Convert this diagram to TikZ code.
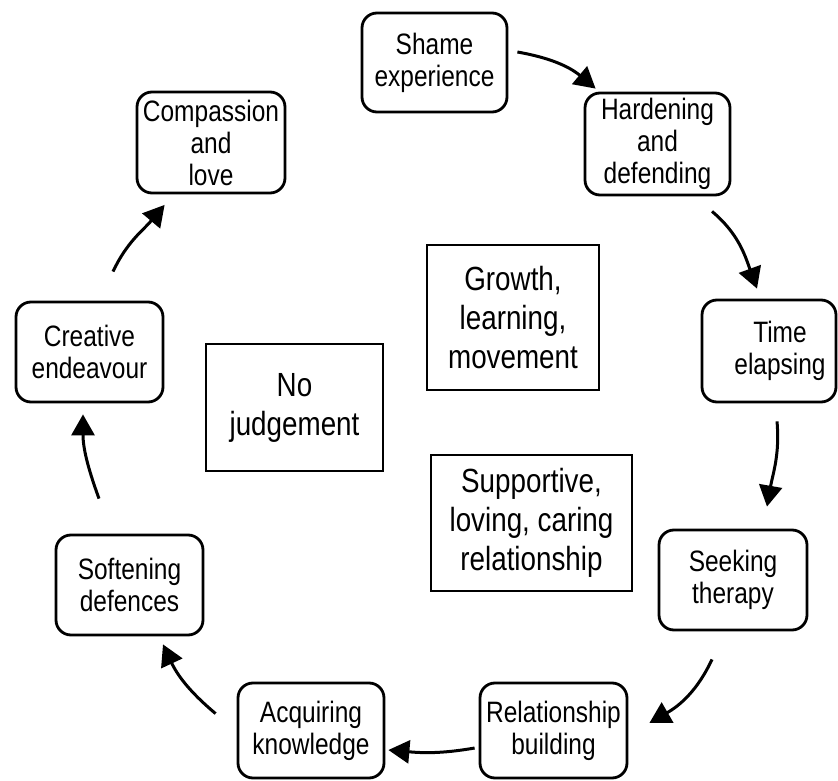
\documentclass[tikz,border=0pt]{standalone}
\usepackage{fontspec}
\setmainfont{Liberation Sans}[FakeStretch=0.83]
\usetikzlibrary{arrows.meta}
\begin{document}
\begin{tikzpicture}[x=1pt,y=1pt,
  stage/.style={draw, line width=2.8pt, rounded corners=15pt, align=center,
    inner sep=0pt, font=\fontsize{29.5}{32}\selectfont, fill=white},
  theme/.style={draw, line width=2.8pt, align=center, inner sep=0pt,
    font=\fontsize{33.5}{39}\selectfont},
  flow/.style={line width=3pt, -{Triangle[length=21pt,width=23pt]}}]
\useasboundingbox (0,0) rectangle (838,780);
\fill[white] (0,0) rectangle (838,780);

% cycle stages
\node[stage, minimum width=145pt, minimum height=99pt]  (shame) at (434.5,717.5) {Shame\\experience};
\node[stage, minimum width=145pt, minimum height=102pt] (hard)  at (657.5,636)   {Hardening\\and\\defending};
\node[stage, minimum width=134pt, minimum height=102pt] (time)  at (769,429)     {\hspace*{22pt}Time\\\hspace*{22pt}elapsing};
\node[stage, minimum width=148pt, minimum height=100pt] (seek)  at (733,200)     {Seeking\\therapy};
\node[stage, minimum width=147pt, minimum height=95pt]  (rel)   at (553.5,49.5)  {Relationship\\building};
\node[stage, minimum width=146pt, minimum height=95pt]  (acq)   at (311,49.5)    {Acquiring\\knowledge};
\node[stage, minimum width=147pt, minimum height=100pt] (soft)  at (129.5,195)   {Softening\\defences};
\node[stage, minimum width=147pt, minimum height=100pt] (crea)  at (89.5,428)    {Creative\\endeavour};
\node[stage, minimum width=148pt, minimum height=101pt] (comp)  at (211,637.5)   {Compassion\\and\\love};

% central themes
\node[theme, minimum width=172pt, minimum height=145pt] (growth)  at (513,462.5)   {Growth,\\learning,\\movement};
\node[theme, minimum width=177pt, minimum height=127pt] (nojudge) at (294.5,372.5) {No\\judgement};
\node[theme, minimum width=201pt, minimum height=136pt] (support) at (531.5,257)   {Supportive,\\loving, caring\\relationship};

% arrows round the cycle
\draw[flow] ([xshift=9pt,yshift=10.5pt]shame.east) to[out=-10,in=140] ([xshift=12pt,yshift=3pt]hard.north west);
\draw[flow] ([xshift=54.5pt,yshift=-15pt]hard.south) to[out=-40,in=110] ([xshift=-12pt,yshift=10pt]time.north);
\draw[flow] ([xshift=8pt,yshift=-18pt]time.south) to[out=-85,in=80] ([xshift=34pt,yshift=22pt]seek.north);
\draw[flow] ([xshift=-21pt,yshift=-28pt]seek.south) to[out=-115,in=30] ([xshift=21pt,yshift=7.5pt]rel.east);
\draw[flow] ([xshift=-4pt,yshift=-17.5pt]rel.west) to[out=190,in=-5] ([xshift=3pt,yshift=-19.5pt]acq.east);
\draw[flow] ([xshift=-21pt,yshift=-32pt]acq.north west) to[out=140,in=-65] ([xshift=33.5pt,yshift=-8pt]soft.south);
\draw[flow] ([xshift=-30.5pt,yshift=35pt]soft.north) to[out=110,in=-90] ([xshift=-6.5pt,yshift=-11pt]crea.south);
\draw[flow] ([xshift=23.5pt,yshift=29pt]crea.north) to[out=65,in=-130] ([xshift=29pt,yshift=-10.5pt]comp.south west);
\end{tikzpicture}
\end{document}
